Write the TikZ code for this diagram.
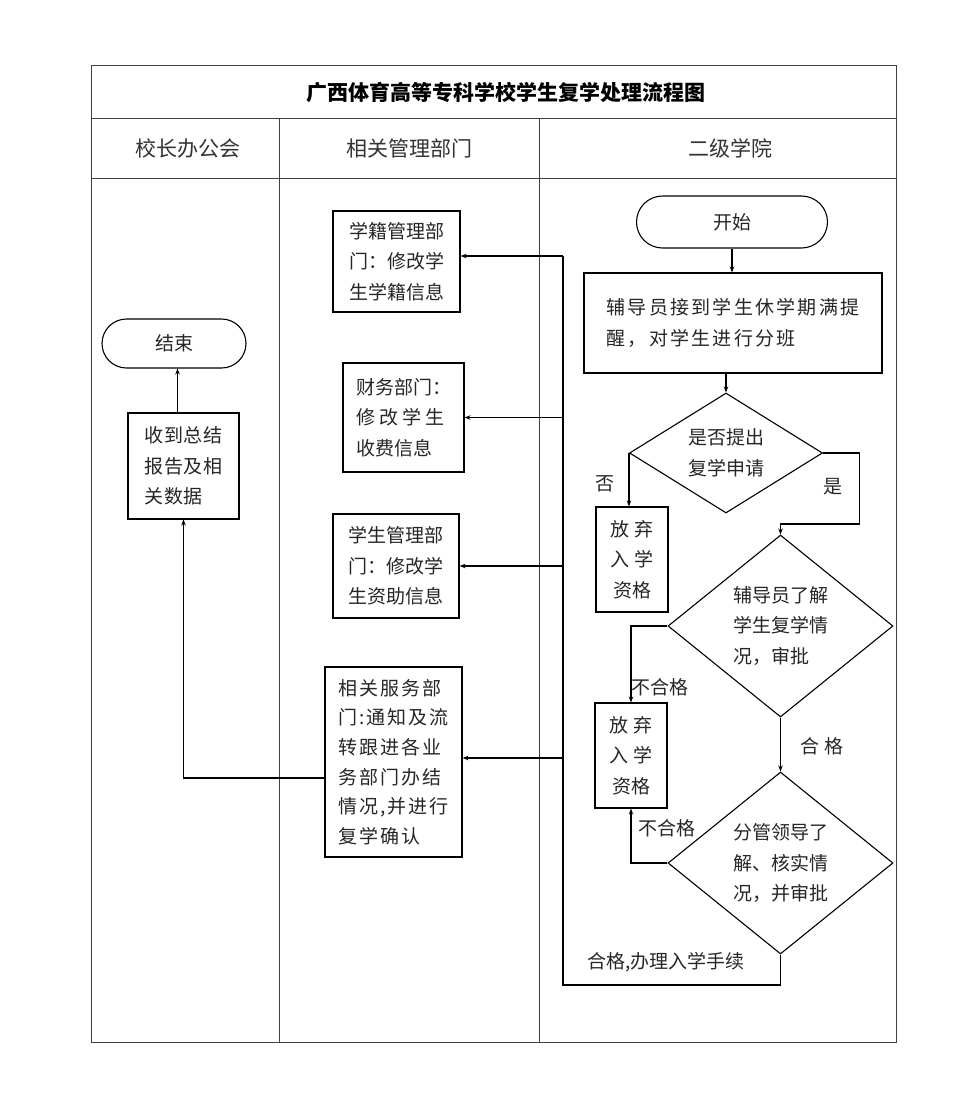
\documentclass[tikz,border=0pt]{standalone}
\usepackage{fontspec}
\setmainfont{Noto Sans CJK SC}
\usetikzlibrary{shapes.geometric,arrows.meta,calc}
\begin{document}
\begin{tikzpicture}[x=1pt,y=-1pt,
  txt/.style={font=\fontsize{19}{30.5}\selectfont, text=black!85},
  frame/.style={draw=black!75, line width=0.9pt},
  box/.style={txt, draw=black, line width=1.1pt, inner sep=0pt, align=left},
  term/.style={txt, draw=black, line width=1.1pt, inner sep=0pt},
  dec/.style={txt, diamond, draw=black, line width=1.1pt, inner sep=0pt, align=left},
  conn/.style={draw=black, line width=1.1pt, -{Stealth[length=6pt,width=4.5pt]}},
  plain/.style={draw=black, line width=1.1pt},
  lab/.style={txt, inner sep=1pt},
  head/.style={font=\fontsize{21}{24}\selectfont, text=black!80}
]
\useasboundingbox (0,0) rectangle (977,1101);
\fill[white] (0,0) rectangle (977,1101);

% table frame
\draw[frame] (91,65) rectangle (896,1042);
\draw[frame] (91,118) -- (896,118);
\draw[frame] (91,178) -- (896,178);
\draw[frame] (279,118) -- (279,1042);
\draw[frame] (539,118) -- (539,1042);

\node[font=\fontsize{21}{24}\selectfont\bfseries, text=black] (title) at (506,92) {广西体育高等专科学校学生复学处理流程图};
\node[head] (h1) at (188,148) {校长办公会};
\node[head] (h2) at (409,148) {相关管理部门};
\node[head] (h3) at (730,148) {二级学院};

% second-level college column
\node[term, rounded corners=26pt, minimum width=191pt, minimum height=52pt] (start) at (732,222) {开始};
\node[box, minimum width=298pt, minimum height=100pt] (rem) at (733,323)
  {\addfontfeature{LetterSpace=12}辅导员接到学生休学期满提\\\addfontfeature{LetterSpace=12}醒，对学生进行分班};
\node[dec, aspect=1.6, minimum width=193pt, minimum height=120pt] (d1) at (726,453) {是否提出\\复学申请};
\node[box, align=center, minimum width=72pt, minimum height=105pt] (g1) at (632,559.5) {放 弃\\入 学\\资格};
\node[dec, aspect=1.25, minimum width=225pt, minimum height=182pt] (d2) at (780.5,626) {辅导员了解\\学生复学情\\况，审批};
\node[box, align=center, minimum width=72pt, minimum height=105pt] (g2) at (631,755.5) {放 弃\\入 学\\资格};
\node[dec, aspect=1.25, minimum width=225pt, minimum height=182pt] (d3) at (780.5,863) {分管领导了\\解、核实情\\况，并审批};

% related departments column
\node[box, minimum width=127pt, minimum height=101pt] (k1) at (396.5,261.5) {学籍管理部\\门：修改学\\生学籍信息};
\node[box, minimum width=121pt, minimum height=109pt] (k2) at (403.5,417.5) {财务部门：\\修 改 学 生\\收费信息};
\node[box, minimum width=126pt, minimum height=104pt] (k3) at (396,566) {学生管理部\\门：修改学\\生资助信息};
\node[box, minimum width=137pt, minimum height=190pt, font=\fontsize{19}{29.6}\selectfont] (k4) at (393.5,762)
  {\addfontfeature{LetterSpace=10}相关服务部\\\addfontfeature{LetterSpace=10}门:通知及流\\\addfontfeature{LetterSpace=10}转跟进各业\\\addfontfeature{LetterSpace=10}务部门办结\\\addfontfeature{LetterSpace=10}情况,并进行\\\addfontfeature{LetterSpace=10}复学确认};

% principal office column
\node[term, rounded corners=24.5pt, minimum width=144pt, minimum height=49pt] (e) at (174,343.5) {结束};
\node[box, minimum width=111pt, minimum height=106pt] (r1) at (183.5,466)
  {\addfontfeature{LetterSpace=4}收到总结\\\addfontfeature{LetterSpace=4}报告及相\\\addfontfeature{LetterSpace=4}关数据};

% connectors
\draw[conn] (start.south) -- (start.south |- rem.north);
\draw[conn] (rem.south -| d1.north) -- (d1.north);
\draw[conn] (d1.west) -- (d1.west |- g1.north);
\node[lab] (lno) at (605,484) {否};
\draw[conn] (d1.east) -- ++(36,0) -- ++(0,71) -| (d2.north);
\node[lab] (lyes) at (833,487) {是};
\draw[conn] (d2.west) -| (g2.north);
\node[lab] (lf1) at (660,687) {不合格};
\draw[conn] (d2.south) -- (d3.north);
\node[lab] (lok1) at (822,746) {合 格};
\draw[conn] (d3.west) -| (g2.south);
\node[lab] (lf2) at (667,828) {不合格};

\coordinate (bustop) at (563,256);
\coordinate (busbot) at (563,985);
\draw[plain] (d3.south) |- (busbot) -- (bustop);
\node[lab] (lok2) at (666,962) {合格,办理入学手续};

\draw[conn] (bustop) -- (bustop -| k1.east);
\draw[conn] (bustop |- k2.east) -- (k2.east);
\draw[conn] (bustop |- k3.east) -- (k3.east);
\coordinate (k4in) at ($(k4.east)+(0,-4)$);
\draw[conn] (bustop |- k4in) -- (k4in);

\coordinate (k4out) at ($(k4.west)+(0,16)$);
\draw[conn] (k4out) -| (r1.south);
\coordinate (rup) at ($(r1.north)+(-6,0)$);
\draw[conn] (rup) -- (rup |- e.south);
\end{tikzpicture}
\end{document}
